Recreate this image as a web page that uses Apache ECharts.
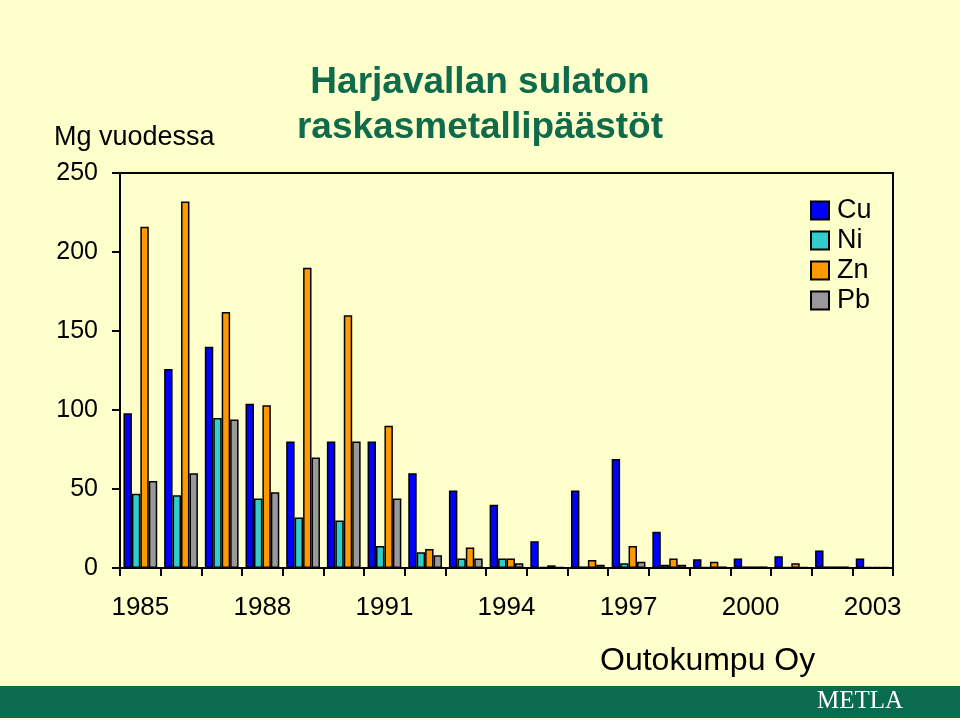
<!DOCTYPE html>
<html>
<head>
<meta charset="utf-8">
<script src="https://cdn.jsdelivr.net/npm/echarts@6/dist/echarts.min.js"></script>
<style>
html,body{margin:0;padding:0;background:#ffffff;}
#c{width:960px;height:720px;}
</style>
</head>
<body>
<div id="c"></div>
<script>
const years = ['1985','1986','1987','1988','1989','1990','1991','1992','1993','1994','1995','1996','1997','1998','1999','2000','2001','2002','2003'];
const cu = [98,126,140,104,80,80,80,60,49,40,17,49,69,23,5.5,6,7.5,11,6];
const ni = [47,46,95,44,32,30,14,10,6,6,0.5,1,3,2,0.5,1,0.5,1,0.5];
const zn = [216,232,162,103,190,160,90,12,13,6,1.7,5,14,6,4,1,3,1,0.5];
const pb = [55,60,94,48,70,80,44,8,6,3,0.5,2,4,2,1,1,0.5,1,0.5];
const seriesNames = ['Cu','Ni','Zn','Pb'];
const seriesColors = ['#0000FF','#33CCCC','#FF9900','#999999'];
const seriesData = [cu, ni, zn, pb];

const chart = echarts.init(document.getElementById('c'), null, {renderer:'canvas'});
const font = 'Arial, "Liberation Sans", sans-serif';
chart.setOption({
  animation:false,
  backgroundColor:'#FFFFCC',
  graphic:[
    {type:'rect', left:0, top:686, shape:{width:960, height:32}, style:{fill:'#0B6B4F'}, z:-1},
    {type:'text', left:'center', top:64, style:{text:'Harjavallan sulaton', font:'bold 37px '+font, fill:'#0E6B4C', textAlign:'center'}},
    {type:'text', left:'center', top:109, style:{text:'raskasmetallipäästöt', font:'bold 37px '+font, fill:'#0E6B4C', textAlign:'center'}},
    {type:'text', left:54, top:124, style:{text:'Mg vuodessa', font:'27px '+font, fill:'#000'}},
    {type:'text', left:600, top:645, style:{text:'Outokumpu Oy', font:'32px '+font, fill:'#000'}},
    {type:'text', left:817, top:689, style:{text:'METLA', font:'25px "Liberation Serif", "DejaVu Serif", serif', fill:'#ffffff'}}
  ],
  grid:{left:120, right:67, top:173, bottom:152, show:true, borderColor:'#000', borderWidth:2, backgroundColor:'transparent'},
  legend:{
    data:seriesNames, orient:'vertical', left:805, top:192,
    itemWidth:18, itemHeight:18, itemGap:3,
    textStyle:{fontSize:27, fontFamily:font, color:'#000', lineHeight:27, padding:[0,0,0,3]},
    icon:'rect'
  },
  xAxis:{
    type:'category', data:years, boundaryGap:true,
    axisLine:{lineStyle:{color:'#000', width:2}},
    axisTick:{show:true, alignWithLabel:false, interval:0, length:8, lineStyle:{color:'#000', width:2}},
    axisLabel:{interval:2, fontSize:26, fontFamily:font, color:'#000', margin:27}
  },
  yAxis:{
    type:'value', min:0, max:250, interval:50,
    axisLine:{show:true, lineStyle:{color:'#000', width:2}},
    axisTick:{show:true, length:8, lineStyle:{color:'#000', width:2}},
    splitLine:{show:false},
    axisLabel:{fontSize:25, fontFamily:font, color:'#000', margin:22}
  },
  series: seriesNames.map((n,i)=>({
    name:n, type:'bar', data:seriesData[i],
    barGap:'0%', barCategoryGap:'17%',
    itemStyle:{color:seriesColors[i], borderColor:'#000', borderWidth:1.5}
  }))
});
</script>
</body>
</html>
